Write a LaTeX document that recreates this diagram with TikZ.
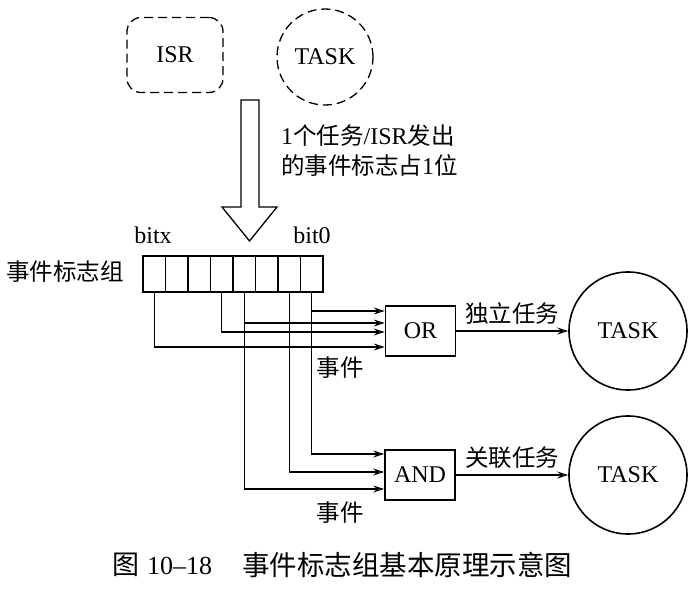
\documentclass[tikz,border=0pt]{standalone}
\usepackage{fontspec}
\setmainfont{Liberation Serif}
\newfontfamily\cjk{Noto Sans CJK SC}
\usetikzlibrary{arrows.meta,shapes.misc}
\begin{document}
\begin{tikzpicture}[x=1pt,y=-1pt,
  lat/.style={font=\fontsize{24}{28}\selectfont},
  zh/.style={font=\cjk\fontsize{23.5}{28}\selectfont},
  cell/.style={draw,line width=1.7pt,minimum width=22.5pt,minimum height=36pt,inner sep=0pt},
  gate/.style={draw,line width=1.7pt,minimum width=70pt,minimum height=50pt,inner sep=0pt,font=\fontsize{24}{28}\selectfont},
  tsk/.style={draw,circle,line width=1.6pt,minimum size=118pt,inner sep=0pt,font=\fontsize{24}{28}\selectfont},
  wire/.style={line width=1.1pt,-{Stealth[open,length=11pt,width=7pt,inset=4pt]}}
]
\useasboundingbox (0,0) rectangle (689,592);

% top sources
\node[draw,dashed,dash pattern=on 9pt off 5pt,line width=1.3pt,rounded corners=14pt,minimum width=96pt,minimum height=75pt,lat] (isr) at (175,55) {ISR};
\node[draw,circle,dashed,dash pattern=on 9pt off 5pt,line width=1.3pt,minimum size=96pt,inner sep=0pt,lat] (tsk0) at (325,57) {TASK};

% hollow arrow
\draw[line width=1.3pt,line join=miter] (241,100) -- (259,100) -- (259,207) -- (277,207) -- (249.5,241) -- (222,207) -- (241,207) -- cycle;

\node[anchor=west,align=left,inner sep=0pt,font=\fontsize{24}{30}\selectfont] (note) at (281,151)
  {1{\cjk\fontsize{23.5}{30}\selectfont 个任务}/ISR{\cjk\fontsize{23.5}{30}\selectfont 发出}\\
   {\cjk\fontsize{23.5}{30}\selectfont 的事件标志占}1{\cjk\fontsize{23.5}{30}\selectfont 位}};

% register
\foreach \i in {1,...,8} {
  \node[cell] (c\i) at ({143+22.5*(\i-0.5)},274) {};
}
\node[lat] (bitx) at (153,235) {bitx};
\node[lat] (bit0) at (312,235) {bit0};
\node[zh] (grp) at (65,272) {事件标志组};

% gates
\node[gate] (or) at (420.5,331) {OR};
\node[gate] (and) at (420,475) {AND};

% tasks
\node[tsk] (t1) at (628,331) {TASK};
\node[tsk] (t2) at (628,475) {TASK};

% wires to OR
\draw[wire] (c8.south) |- ([yshift=20pt]or.west);
\draw[wire] (c5.south) |- ([yshift=8pt]or.west);
\draw[wire] (c4.south) |- ([yshift=-1pt]or.west);
\draw[wire] (c1.south) |- ([yshift=-16pt]or.west);

% wires to AND
\draw[wire] (c8.south) |- ([yshift=21pt]and.west);
\draw[wire] (c7.south) |- ([yshift=3pt]and.west);
\draw[wire] (c5.south) |- ([yshift=-14pt]and.west);

% outputs
\draw[wire] (or.east) -- (t1.west);
\draw[wire] (and.east) -- (t2.west);

\node[zh] (l1) at (512,313) {独立任务};
\node[zh] (l2) at (512,458) {关联任务};
\node[zh] (e1) at (340,368) {事件};
\node[zh] (e2) at (340,513) {事件};

% caption
\node[anchor=west,inner sep=0pt] (cap1) at (112,565) {{\cjk\fontsize{27}{30}\selectfont 图}\hspace{8pt}{\fontsize{26}{30}\selectfont 10–18}};
\node[anchor=west,inner sep=0pt,font=\cjk\fontsize{27.5}{30}\selectfont] (cap2) at (242,565) {事件标志组基本原理示意图};
\end{tikzpicture}
\end{document}
